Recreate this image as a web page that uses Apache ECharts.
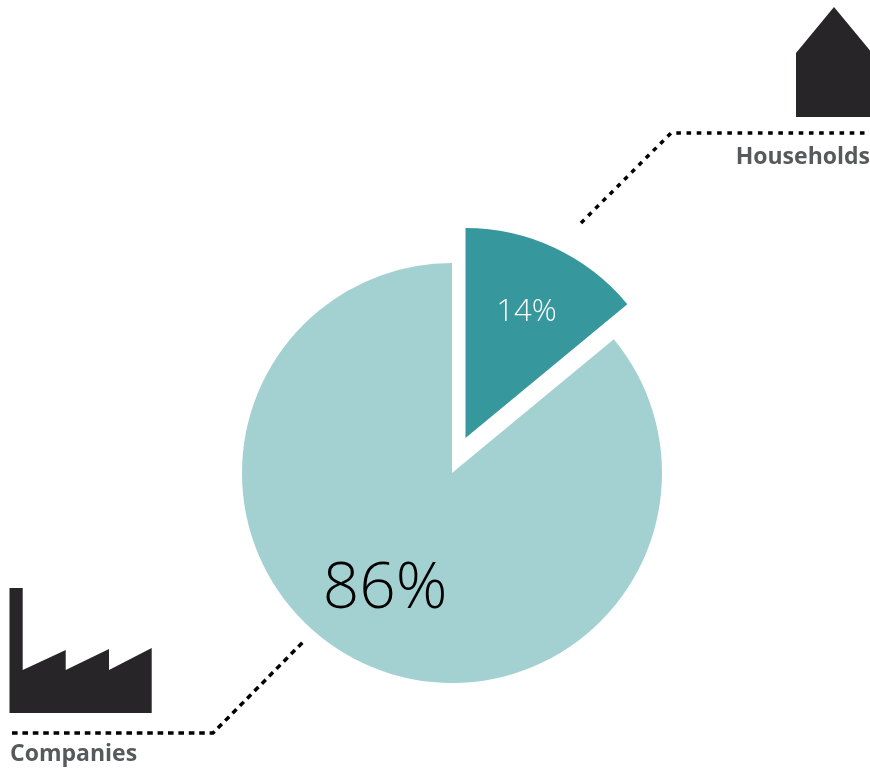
<!DOCTYPE html>
<html>
<head>
<meta charset="utf-8">
<style>html,body{margin:0;padding:0;background:#fff}#c{width:870px;height:768px}</style>
<script src="https://cdn.jsdelivr.net/npm/echarts@6/dist/echarts.min.js"></script>
</head>
<body>
<div id="c"></div>
<script>
const categories = ['Households', 'Companies'];
const shares = [14, 86];
const chart = echarts.init(document.getElementById('c'), null, {renderer: 'canvas'});
const R = 210;
const FONT = '"Open Sans"';
const dark = '#272527';

const mk = (active, color, labelStyle, layout, center) => ({
  type: 'pie', silent: true, animation: false, clockwise: true, startAngle: 90,
  center, radius: [0, R],
  labelLine: {show: false},
  labelLayout: layout,
  data: categories.map((name, i) => i === active ? {
    name, value: shares[i], itemStyle: {color},
    label: Object.assign({show: true, position: 'inside', formatter: '{c}%', fontFamily: FONT, fontWeight: 300}, labelStyle)
  } : {
    name, value: shares[i], itemStyle: {color: 'transparent'}, label: {show: false}
  })
});

chart.setOption({
  animation: false,
  backgroundColor: '#fff',
  series: [
    mk(1, '#A3D1D1', {color: '#000', fontSize: 64}, {dx: -21, dy: 19}, [452, 473]),
    mk(0, '#36979C', {color: '#fff', fontSize: 31}, {dx: 15, dy: -28}, [465.5, 438])
  ],
  graphic: [
    {type: 'polygon', silent: true, shape: {points: [[834,7],[796,53],[796,117],[872,117],[872,53]]}, style: {fill: dark}},
    {type: 'polygon', silent: true, shape: {points: [[9.5,588],[22.7,588],[22.7,670],[65.7,650],[65.7,670],[109,649],[109,670],[151.7,648],[151.7,713],[9.5,713]]}, style: {fill: dark}},
    {type: 'polyline', silent: true, shape: {points: [[581,223],[671,133],[870,133]]}, style: {stroke: '#000', fill: 'none', lineWidth: 3.5, lineDash: [4.6, 5.6]}},
    {type: 'polyline', silent: true, shape: {points: [[12,733],[213,733],[303,642]]}, style: {stroke: '#000', fill: 'none', lineWidth: 3.5, lineDash: [5.6, 4.8]}},
    {type: 'text', silent: true, style: {text: categories[0], x: 870, y: 157, align: 'right', verticalAlign: 'middle', fill: '#58595b', font: 'bold 23px "Open Sans"'}},
    {type: 'text', silent: true, style: {text: categories[1], x: 10, y: 754, align: 'left', verticalAlign: 'middle', fill: '#58595b', font: 'bold 23px "Open Sans"'}}
  ]
});
</script>
</body>
</html>
